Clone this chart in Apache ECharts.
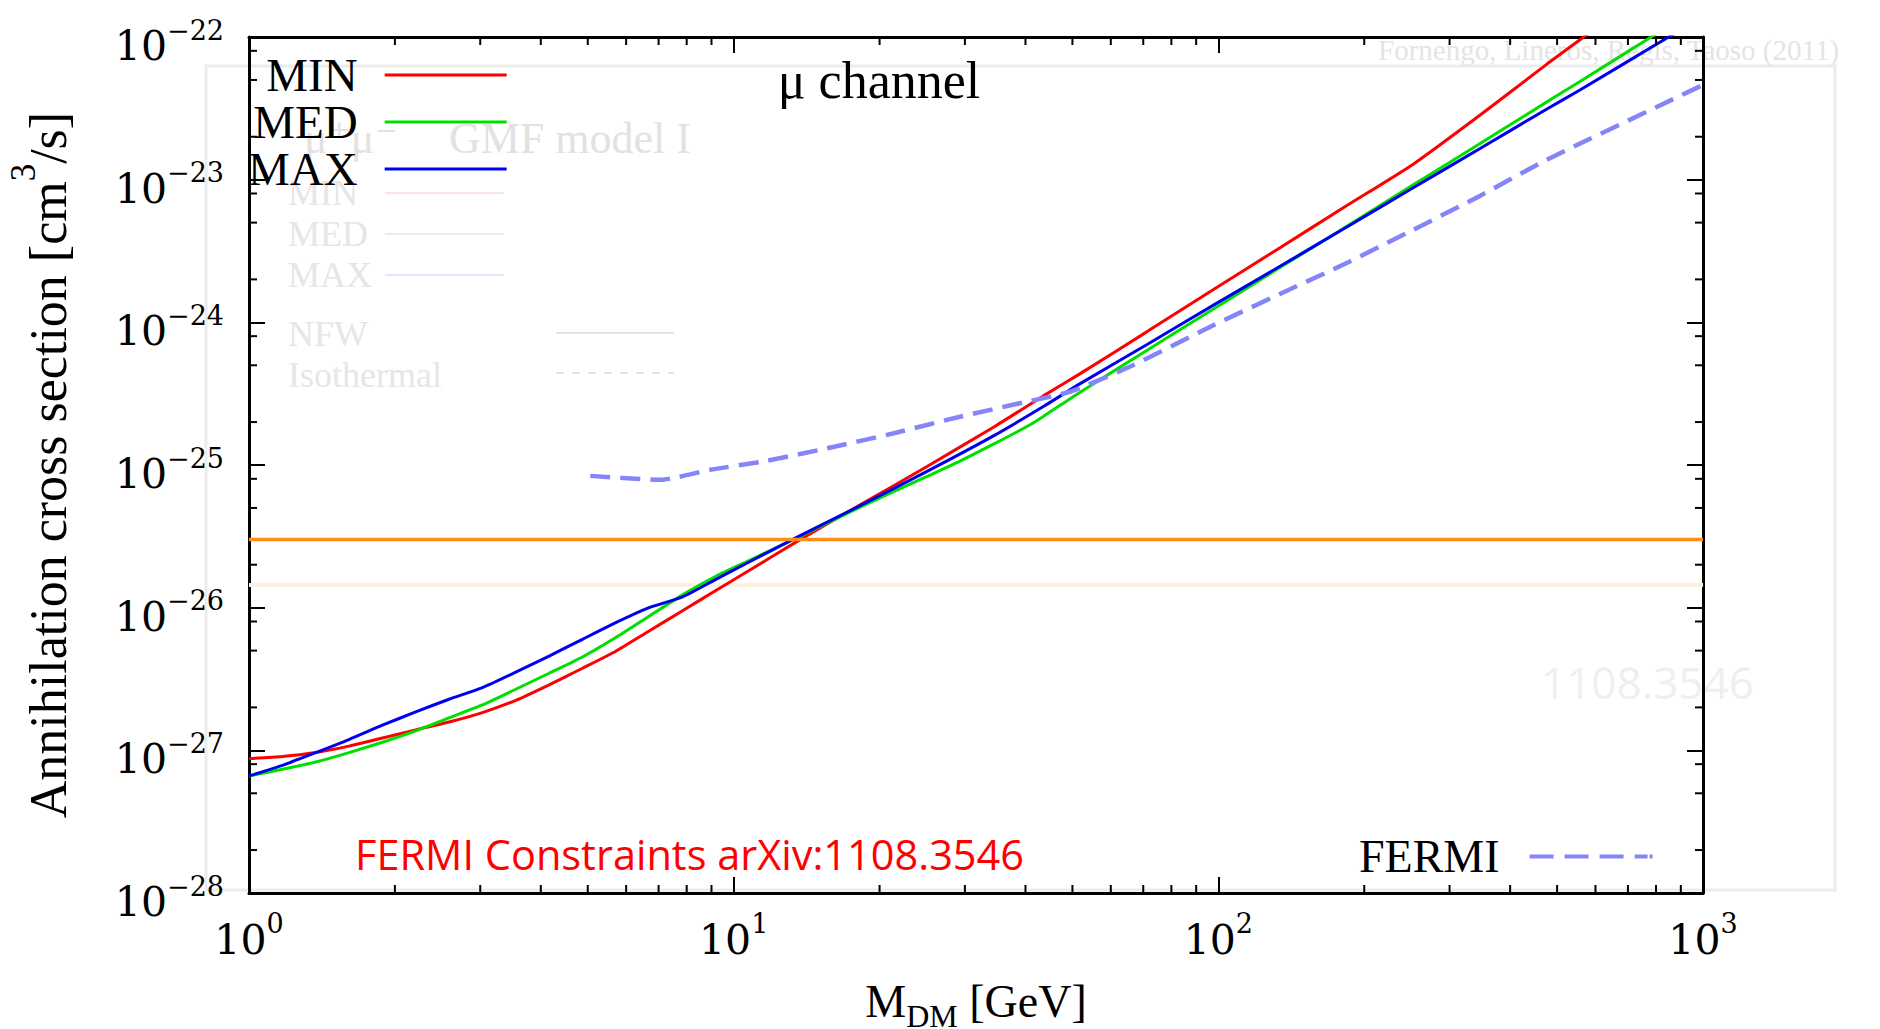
<!DOCTYPE html>
<html><head><meta charset="utf-8">
<script src="https://cdn.jsdelivr.net/npm/echarts@6/dist/echarts.min.js"></script>
<style>html,body{margin:0;padding:0;background:#fff}#c{width:1880px;height:1029px}</style>
</head><body><div id="c"></div>
<script>
// ---------------- data ----------------
const minMass  = [1.00,1.172,1.373,1.608,1.885,2.208,2.587,3.031,3.551,4.161,4.875,5.712,6.692,7.842,9.188,10.76,13.71,18.24,25.06,34.36,43.55,51.88,71.29,97.72,134.3,184.5,252.9,347.5,476.4,567.5,660.7];
const minSigma = [8.75e-28,9.04e-28,9.64e-28,1.07e-27,1.22e-27,1.39e-27,1.58e-27,1.84e-27,2.24e-27,2.88e-27,3.76e-27,4.95e-27,6.87e-27,9.51e-27,1.32e-26,1.82e-26,3.00e-26,5.25e-26,9.77e-26,1.84e-25,3.05e-25,4.37e-25,8.61e-25,1.70e-24,3.35e-24,6.61e-24,1.29e-23,2.85e-23,6.46e-23,1.00e-22,1.48e-22];

const medMass  = [1.00,1.172,1.373,1.608,1.885,2.208,2.587,3.031,3.551,4.161,4.875,5.712,6.692,7.842,9.188,10.76,13.27,18.24,25.06,29.38,34.36,40.27,43.55,51.88,71.29,97.72,134.3,184.5,252.9,347.5,476.4,558.5,781.6,891.3];
const medSigma = [6.61e-28,7.36e-28,8.28e-28,9.64e-28,1.14e-27,1.37e-27,1.69e-27,2.08e-27,2.68e-27,3.47e-27,4.51e-27,6.17e-27,8.71e-27,1.23e-26,1.66e-26,2.14e-26,3.00e-26,5.07e-26,8.32e-26,1.07e-25,1.40e-25,1.86e-25,2.19e-25,3.24e-25,6.38e-25,1.24e-24,2.43e-24,4.73e-24,9.23e-24,1.80e-23,3.51e-23,4.90e-23,1.00e-22,1.32e-22];

const maxMass  = [1.00,1.172,1.373,1.608,1.885,2.208,2.587,3.031,3.551,4.161,4.875,5.712,6.692,7.842,9.188,10.76,13.27,18.24,25.06,34.36,43.55,51.88,71.29,97.72,134.3,184.5,252.9,347.5,476.4,558.5,849.2,955.0];
const maxSigma = [6.61e-28,7.85e-28,9.64e-28,1.19e-27,1.50e-27,1.86e-27,2.28e-27,2.75e-27,3.53e-27,4.58e-27,6.00e-27,7.85e-27,1.00e-26,1.19e-26,1.58e-26,2.09e-26,3.02e-26,5.19e-26,9.02e-26,1.60e-25,2.57e-25,3.72e-25,7.00e-25,1.32e-24,2.48e-24,4.68e-24,8.81e-24,1.66e-23,3.13e-23,4.27e-23,1.00e-22,1.26e-22];

const fermiMass  = [5.06,7.05,8.94,11.7,15.6,21.4,29.3,40.3,49.5,65.8,97.7,134,185,253,348,476,1000];
const fermiSigma = [8.39e-26,7.87e-26,9.25e-26,1.07e-25,1.31e-25,1.67e-25,2.18e-25,2.78e-25,3.27e-25,4.90e-25,9.55e-25,1.58e-24,2.63e-24,4.47e-24,7.76e-24,1.38e-23,4.61e-23];

const thermalMass  = [1, 1000];
const thermalSigma = [3.0e-26, 3.0e-26];
const ghostMass    = [1, 1000];
const ghostSigma   = [1.44e-26, 1.44e-26];

// axes / ticks
const xMin = 1, xMax = 1000, yMin = 1e-28, yMax = 1e-22;
const xMajorTicks = [1, 10, 100, 1000];
const xTickLabels = ['0', '1', '2', '3'];
const yMajorTicks = [1e-28, 1e-27, 1e-26, 1e-25, 1e-24, 1e-23, 1e-22];
const yTickLabels = ['−28', '−27', '−26', '−25', '−24', '−23', '−22'];
const xMinorTicks = [2,3,4,5,6,7,8,9,20,30,40,50,60,70,80,90,200,300,400,500,600,700,800,900];
const yMinorTicks = [2e-28,5e-28,8e-28,2e-27,5e-27,8e-27,2e-26,5e-26,8e-26,2e-25,5e-25,8e-25,2e-24,5e-24,8e-24,2e-23,5e-23,8e-23];

const seriesNames = ['MIN', 'MED', 'MAX'];

// ---------------- chart ----------------
const SERIF = '"Liberation Serif", "DejaVu Serif", serif';
const DEJA = '"DejaVu Serif", serif';
const pair = (xs, ys) => xs.map((x, i) => [x, ys[i]]);
const labelRich = {
  b: { fontFamily: DEJA, fontSize: 41, lineHeight: 41, color: '#000', verticalAlign: 'top', padding: [9, 0, 9, 0] },
  s: { fontFamily: DEJA, fontSize: 27, lineHeight: 27, color: '#000', verticalAlign: 'top' }
};
function expLabel(v, ticks, labels) {
  let best = 0, bd = Infinity;
  ticks.forEach((t, i) => { const d = Math.abs(Math.log10(t) - Math.log10(v)); if (d < bd) { bd = d; best = i; } });
  return '{b|10}{s|' + labels[best] + '}';
}
const axisLineStyle = { color: '#000', width: 3 };
const tickStyle = { color: '#000', width: 2 };
const DASH_ICON = 'path://M0,0h24v4h-24z M35,0h24v4h-24z M70,0h24v4h-24z M105,0h13v4h-13z M120,0h3v4h-3z';

const chart = echarts.init(document.getElementById('c'), null, { renderer: 'svg' });

const option = {
  animation: false,
  backgroundColor: '#fff',
  grid: { left: 249, top: 37, width: 1454, height: 856, containLabel: false, outerBoundsMode: 'none' },
  xAxis: [
    {
      type: 'log', logBase: 10, min: xMin, max: xMax, position: 'bottom',
      axisLine: { onZero: false, lineStyle: axisLineStyle },
      axisTick: { inside: true, length: 16, lineStyle: tickStyle },
      splitLine: { show: false },
      axisLabel: { margin: 17, formatter: v => expLabel(v, xMajorTicks, xTickLabels), rich: labelRich, showMinLabel: true, showMaxLabel: true, hideOverlap: false },
      name: '{m|M}{sub|DM}{m| [GeV]}', nameLocation: 'middle', nameGap: 85, nameMoveOverlap: false,
      nameTextStyle: { rich: {
        m: { fontFamily: SERIF, fontSize: 46, lineHeight: 46, color: '#000', verticalAlign: 'top' },
        sub: { fontFamily: SERIF, fontSize: 32, lineHeight: 32, color: '#000', verticalAlign: 'top', padding: [22, 0, 0, 0] }
      } }
    },
    {
      type: 'log', logBase: 10, min: xMin, max: xMax, position: 'top',
      axisLine: { onZero: false, lineStyle: axisLineStyle },
      axisTick: { inside: true, length: 16, lineStyle: tickStyle },
      splitLine: { show: false }, axisLabel: { show: false }
    }
  ],
  yAxis: [
    {
      type: 'log', logBase: 10, min: yMin, max: yMax, position: 'left',
      axisLine: { onZero: false, lineStyle: axisLineStyle },
      axisTick: { inside: true, length: 16, lineStyle: tickStyle },
      splitLine: { show: false },
      axisLabel: { show: false },
      name: '{a|Annihilation cross section [cm}{s|3}{a|/s]}', nameLocation: 'middle', nameRotate: 90, nameGap: 191, nameMoveOverlap: false,
      nameTextStyle: { rich: {
        a: { fontFamily: SERIF, fontSize: 52, lineHeight: 52, color: '#000', verticalAlign: 'top', padding: [16, 0, 0, 0] },
        s: { fontFamily: SERIF, fontSize: 35, lineHeight: 35, color: '#000', verticalAlign: 'top' }
      } }
    },
    {
      type: 'log', logBase: 10, min: yMin, max: yMax, position: 'right',
      axisLine: { onZero: false, lineStyle: axisLineStyle },
      axisTick: { inside: true, length: 16, lineStyle: tickStyle },
      splitLine: { show: false }, axisLabel: { show: false }
    }
  ],
  legend: [
    {
      data: seriesNames.map(n => ({ name: n, icon: 'rect' })), orient: 'vertical', left: 248, top: 51.5, align: 'right',
      itemWidth: 122, itemHeight: 3, itemGap: 0, padding: 0, selectedMode: false,
      formatter: '{t|{name}}',
      textStyle: { color: '#000', rich: { t: { fontFamily: SERIF, fontSize: 47, lineHeight: 45, width: 105, align: 'right', padding: [0, 22, 0, 0], color: '#000' } } }
    },
    {
      data: [{ name: 'FERMI', icon: DASH_ICON }], orient: 'vertical', left: 1359, top: 833.5, align: 'right',
      itemWidth: 123, itemHeight: 4, itemGap: 0, padding: 0, selectedMode: false,
      formatter: '{t|{name}}',
      textStyle: { color: '#000', rich: { t: { fontFamily: SERIF, fontSize: 46, lineHeight: 45, width: 140, align: 'right', padding: [0, 25, 0, 0], color: '#000' } } }
    }
  ],
  graphic: [
    { type: 'rect', silent: true, z: 0, shape: { x: 206, y: 66, width: 1629, height: 824 }, style: { fill: 'none', stroke: '#ececec', lineWidth: 3 } },
    { type: 'text', silent: true, z: 0, x: 1378, y: 50, style: { text: 'Fornengo, Lineros, Regis, Taoso (2011)', font: '29px ' + SERIF, fill: '#e4e4e4', verticalAlign: 'middle' } },
    { type: 'text', silent: true, z: 0, x: 304, y: 138, style: { text: 'μ⁺μ⁻', font: '44px ' + SERIF, fill: '#e2e2e2', verticalAlign: 'middle' } },
    { type: 'text', silent: true, z: 0, x: 449, y: 138, style: { text: 'GMF model I', font: '44px ' + SERIF, fill: '#e2e2e2', verticalAlign: 'middle' } },
    { type: 'text', silent: true, z: 0, x: 288, y: 193, style: { text: 'MIN', font: '36px ' + SERIF, fill: '#e6e6e6', verticalAlign: 'middle' } },
    { type: 'text', silent: true, z: 0, x: 288, y: 234, style: { text: 'MED', font: '36px ' + SERIF, fill: '#e6e6e6', verticalAlign: 'middle' } },
    { type: 'text', silent: true, z: 0, x: 288, y: 275, style: { text: 'MAX', font: '36px ' + SERIF, fill: '#e6e6e6', verticalAlign: 'middle' } },
    { type: 'text', silent: true, z: 0, x: 288, y: 334, style: { text: 'NFW', font: '36px ' + SERIF, fill: '#e6e6e6', verticalAlign: 'middle' } },
    { type: 'text', silent: true, z: 0, x: 288, y: 375, style: { text: 'Isothermal', font: '36px ' + SERIF, fill: '#e6e6e6', verticalAlign: 'middle' } },
    { type: 'line', silent: true, z: 0, shape: { x1: 385, y1: 193, x2: 504, y2: 193 }, style: { stroke: '#fde4e4', lineWidth: 2 } },
    { type: 'line', silent: true, z: 0, shape: { x1: 385, y1: 234, x2: 504, y2: 234 }, style: { stroke: '#e3f3e3', lineWidth: 2 } },
    { type: 'line', silent: true, z: 0, shape: { x1: 385, y1: 275, x2: 504, y2: 275 }, style: { stroke: '#e6e6fb', lineWidth: 2 } },
    { type: 'line', silent: true, z: 0, shape: { x1: 556, y1: 333, x2: 674, y2: 333 }, style: { stroke: '#e4e4e4', lineWidth: 2 } },
    { type: 'line', silent: true, z: 0, shape: { x1: 556, y1: 373, x2: 674, y2: 373 }, style: { stroke: '#e4e4e4', lineWidth: 2, lineDash: [8, 8] } },
    { type: 'text', silent: true, z: 0, x: 1541, y: 682, style: { text: '1108.3546', font: '44px "Open Sans", sans-serif', fill: '#efefef', verticalAlign: 'middle' } },
    { type: 'text', silent: true, z: 10, x: 355, y: 854, style: { text: 'FERMI Constraints arXiv:1108.3546', font: '41.5px "Open Sans", "Noto Sans", sans-serif', fill: '#ff0000', verticalAlign: 'middle' } },
    { type: 'text', silent: true, z: 10, x: 879, y: 80, style: { text: 'μ channel', font: '52px ' + SERIF, fill: '#000', align: 'center', verticalAlign: 'middle' } }
  ],
  series: [
    { name: 'ghost', type: 'line', data: pair(ghostMass, ghostSigma), symbol: 'none', silent: true, z: 1,
      lineStyle: { color: '#fdf0e1', width: 4 } },
    { name: 'MIN', type: 'line', data: pair(minMass, minSigma), symbol: 'none', smooth: 0.2, z: 3,
      itemStyle: { color: '#ff0000' }, lineStyle: { color: '#ff0000', width: 3 } },
    { name: 'MED', type: 'line', data: pair(medMass, medSigma), symbol: 'none', smooth: 0.2, z: 3,
      itemStyle: { color: '#00e000' }, lineStyle: { color: '#00e000', width: 3 } },
    { name: 'MAX', type: 'line', data: pair(maxMass, maxSigma), symbol: 'none', smooth: 0.2, z: 3,
      itemStyle: { color: '#0000f0' }, lineStyle: { color: '#0000f0', width: 3 } },
    { name: 'FERMI', type: 'line', data: pair(fermiMass, fermiSigma), symbol: 'none', smooth: 0.2, z: 4,
      itemStyle: { color: '#8585fa' }, lineStyle: { color: '#8585fa', width: 4.5, type: [20, 10] } },
    { name: 'thermal', type: 'line', data: pair(thermalMass, thermalSigma), symbol: 'none', silent: true, z: 5,
      lineStyle: { color: '#ff8c1a', width: 3.5 } },
    { name: 'xMinor', type: 'custom', silent: true, z: 6, data: xMinorTicks.map(v => [v, yMin]),
      renderItem: (params, api) => {
        const v = api.value(0);
        const b = api.coord([v, yMin]), t = api.coord([v, yMax]);
        return { type: 'group', children: [
          { type: 'line', shape: { x1: b[0], y1: b[1], x2: b[0], y2: b[1] - 8 }, style: { stroke: '#000', lineWidth: 2 } },
          { type: 'line', shape: { x1: t[0], y1: t[1], x2: t[0], y2: t[1] + 8 }, style: { stroke: '#000', lineWidth: 2 } }
        ] };
      } },
    { name: 'yMinor', type: 'custom', silent: true, z: 6, data: yMinorTicks.map(v => [xMin, v]),
      renderItem: (params, api) => {
        const v = api.value(1);
        const l = api.coord([xMin, v]), r = api.coord([xMax, v]);
        return { type: 'group', children: [
          { type: 'line', shape: { x1: l[0], y1: l[1], x2: l[0] + 8, y2: l[1] }, style: { stroke: '#000', lineWidth: 2 } },
          { type: 'line', shape: { x1: r[0], y1: r[1], x2: r[0] - 8, y2: r[1] }, style: { stroke: '#000', lineWidth: 2 } }
        ] };
      } },
    { name: 'yLabels', type: 'custom', silent: true, z: 6, clip: false, data: yMajorTicks.map((v, i) => [xMin, v, i]),
      renderItem: (params, api) => {
        const i = api.value(2);
        const p = api.coord([xMin, api.value(1)]);
        return { type: 'text', x: p[0] - 25, y: p[1],
          style: { text: '{b|10}{s|' + yTickLabels[i] + '}', rich: labelRich, align: 'right', verticalAlign: 'middle' } };
      } }
  ]
};
chart.setOption(option);
</script>
</body></html>
